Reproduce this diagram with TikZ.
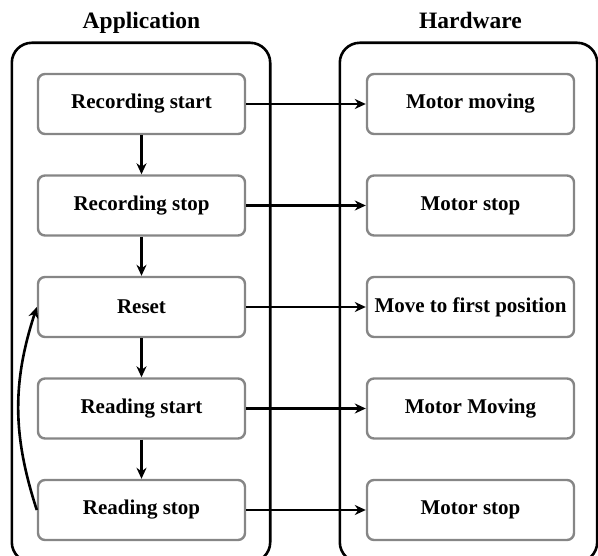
\documentclass[tikz,border=0pt]{standalone}
\usepackage{fontspec}
\setmainfont{Liberation Serif}
\usetikzlibrary{arrows.meta,positioning,calc}

\begin{document}
\begin{tikzpicture}[>={Stealth[length=11pt,width=10pt,inset=3.5pt]},x=1pt,y=1pt,node distance=101.5pt,
  box/.style={draw=gray!95,line width=2.4pt,rounded corners=7pt,minimum width=207pt,minimum height=60pt,font=\fontsize{21}{24}\selectfont\bfseries},
  title/.style={font=\fontsize{23.5}{26}\selectfont\bfseries,text height=16pt,text depth=5pt},
  frame/.style={line width=2.6pt,rounded corners=20pt},
  link/.style={->,line width=2.6pt}]

\useasboundingbox (0,0) rectangle (598,-556);

% application side
\node[box] (a1) at (141.5,-104) {Recording start};
\node[box] (a2) [below of=a1] {Recording stop};
\node[box] (a3) [below of=a2] {Reset};
\node[box] (a4) [below of=a3] {Reading start};
\node[box] (a5) [below of=a4] {Reading stop};

% hardware side
\node[box] (h1) [right of=a1,node distance=329pt] {Motor moving};
\node[box] (h2) [right of=a2,node distance=329pt] {Motor stop};
\node[box] (h3) [right of=a3,node distance=329pt] {Move to first position};
\node[box] (h4) [right of=a4,node distance=329pt] {Motor Moving};
\node[box] (h5) [right of=a5,node distance=329pt] {Motor stop};

\node[title] (app) [above of=a1,node distance=81pt] {Application};
\node[title] (hw) [above of=h1,node distance=81pt] {Hardware};

\draw[frame] ($(a1.north west)+(-25,30)$) rectangle ($(a5.south east)+(24,-21)$);
\draw[frame] ($(h1.north west)+(-26,30)$) rectangle ($(h5.south east)+(22,-21)$);

\path[link] (a1) edge (a2)
  (a2) edge (a3)
  (a3) edge (a4)
  (a4) edge (a5)
  (a5.west) edge[bend left=18] (a3.west);

\path[link] (a1) edge (h1)
  (a2) edge (h2)
  (a3) edge (h3)
  (a4) edge (h4)
  (a5) edge (h5);

\end{tikzpicture}
\end{document}
